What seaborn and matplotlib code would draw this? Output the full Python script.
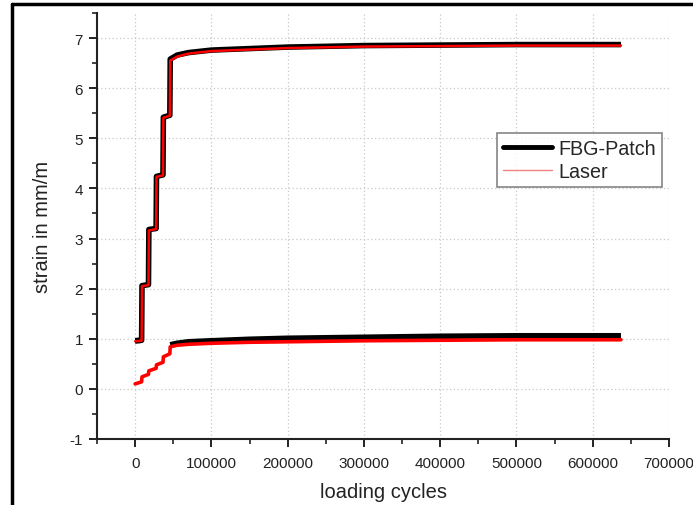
import matplotlib
matplotlib.use("Agg")
import matplotlib.pyplot as plt
import seaborn as sns
import pandas as pd
from matplotlib.lines import Line2D
from matplotlib.ticker import MultipleLocator, FuncFormatter

# ---- data ----
step_cycles = [0, 8500, 9000, 17500, 18000, 27500, 28000, 36500, 37000, 45500,
               46000, 55000, 70000, 100000, 150000, 200000, 300000, 400000, 500000, 637000]
fbg_max = [0.96, 0.97, 2.06, 2.08, 3.18, 3.20, 4.24, 4.27, 5.42, 5.46,
           6.58, 6.66, 6.71, 6.76, 6.79, 6.82, 6.85, 6.86, 6.87, 6.87]
laser_max = [0.95, 0.96, 2.05, 2.07, 3.16, 3.19, 4.23, 4.26, 5.41, 5.45,
             6.55, 6.63, 6.69, 6.74, 6.77, 6.80, 6.83, 6.84, 6.85, 6.85]
laser_min = [0.10, 0.14, 0.24, 0.29, 0.36, 0.41, 0.48, 0.53, 0.64, 0.70,
             0.84, 0.87, 0.89, 0.91, 0.93, 0.94, 0.96, 0.97, 0.98, 0.98]

fbg_min_cycles = [0, 8500, 46000, 55000, 70000, 100000, 150000, 200000, 300000, 400000, 500000, 637000]
fbg_min = [0.96, 0.97, 0.88, 0.91, 0.94, 0.96, 0.99, 1.01, 1.03, 1.05, 1.06, 1.06]

x_ticks = [0, 100000, 200000, 300000, 400000, 500000, 600000, 700000]
y_ticks = [-1, 0, 1, 2, 3, 4, 5, 6, 7]

sns.set_style("white")
plt.rcParams['font.family'] = ['Liberation Sans', 'DejaVu Sans']

fig = plt.figure(figsize=(6.93, 5.06), dpi=100)
ax = fig.add_axes([97/693, 1-440/506, (669-97)/693, (440-14)/506])

df_fbg_max = pd.DataFrame({"cycles": step_cycles, "strain": fbg_max})
df_fbg_min_a = pd.DataFrame({"cycles": fbg_min_cycles[:2], "strain": fbg_min[:2]})
df_fbg_min_b = pd.DataFrame({"cycles": fbg_min_cycles[2:], "strain": fbg_min[2:]})
df_laser_max = pd.DataFrame({"cycles": step_cycles, "strain": laser_max})
df_laser_min = pd.DataFrame({"cycles": step_cycles, "strain": laser_min})

black_lw = 4.0
red_lw = 1.8
for d in (df_fbg_max, df_fbg_min_a, df_fbg_min_b):
    sns.lineplot(data=d, x="cycles", y="strain", ax=ax, color="black",
                 linewidth=black_lw, sort=False, estimator=None, legend=False,
                 solid_capstyle="butt")
sns.lineplot(data=df_laser_max, x="cycles", y="strain", ax=ax, color="#ff0000",
             linewidth=red_lw, sort=False, estimator=None, legend=False)
sns.lineplot(data=df_laser_min, x="cycles", y="strain", ax=ax, color="#ff0000",
             linewidth=2.6, sort=False, estimator=None, legend=False)

ax.set_xlim(-50000, 700000)
ax.set_ylim(-1, 7.5)
ax.set_xticks(x_ticks)
ax.set_yticks(y_ticks)
ax.xaxis.set_minor_locator(MultipleLocator(50000))
ax.yaxis.set_minor_locator(MultipleLocator(0.5))
ax.xaxis.set_major_formatter(FuncFormatter(lambda v, p: f"{int(round(v))}"))
ax.yaxis.set_major_formatter(FuncFormatter(lambda v, p: f"{int(round(v))}"))

for side in ("top", "right"):
    ax.spines[side].set_visible(False)
for side in ("left", "bottom"):
    ax.spines[side].set_linewidth(1.5)
    ax.spines[side].set_color("#222222")

ax.tick_params(axis="x", which="major", pad=6)
ax.tick_params(axis="y", which="major", pad=4)
ax.tick_params(axis="both", which="major", direction="out", length=6, width=1.4,
               labelsize=11, color="#222222", labelcolor="#222222")
ax.tick_params(axis="both", which="minor", direction="out", length=3.5, width=1.2,
               color="#222222")
ax.tick_params(left=True, bottom=True, which="both")

ax.grid(True, which="major", linestyle=(0, (1, 2)), color="#c8c8c8", linewidth=0.9)
ax.set_axisbelow(True)

ax.set_xlabel("loading cycles", fontsize=14.5, color="#222222", labelpad=9)
ax.set_ylabel("strain in mm/m", fontsize=14.5, color="#222222", labelpad=13)

handles = [Line2D([0], [0], color="black", linewidth=3.5),
           Line2D([0], [0], color="#f08080", linewidth=1.0)]
leg = ax.legend(handles, ["FBG-Patch", "Laser"], loc="upper left",
                bbox_to_anchor=(0.699, 0.718), fontsize=14.2, frameon=True,
                fancybox=False, handlelength=2.5, borderpad=0.3,
                labelspacing=0.2, handletextpad=0.3, borderaxespad=0)
leg.get_frame().set_edgecolor("#666666")
leg.get_frame().set_linewidth(1.2)

# figure border (left and top)
fig.add_artist(Line2D([12/693, 12/693], [0, 1-5/506], transform=fig.transFigure,
                      color="black", linewidth=2.5))
fig.add_artist(Line2D([12/693, 1], [1-5/506, 1-5/506], transform=fig.transFigure,
                      color="black", linewidth=2.5))

fig.savefig("out.png", dpi=100)
